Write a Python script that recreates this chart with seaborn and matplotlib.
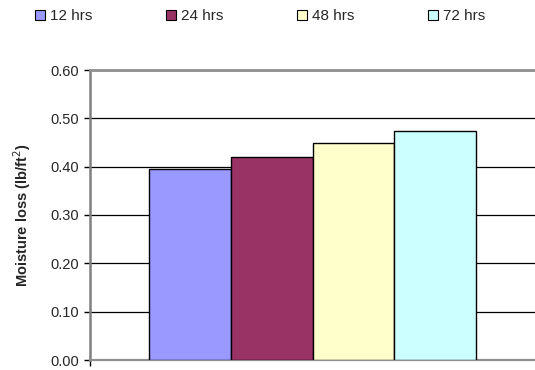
"""Moisture loss by drying time - grouped bar chart"""
import matplotlib
matplotlib.use("Agg")
import pandas as pd
import seaborn as sns
from matplotlib import pyplot as plt

SERIES = ["12 hrs", "24 hrs", "48 hrs", "72 hrs"]
VALUES = [0.395, 0.420, 0.448, 0.473]
COLORS = ["#9999FF", "#993366", "#FFFFCC", "#CCFFFF"]
Y_TICKS = [0.0, 0.1, 0.2, 0.3, 0.4, 0.5, 0.6]

sns.set_theme(style="white")
plt.rcParams["font.family"] = ["Liberation Sans", "DejaVu Sans"]

df = pd.DataFrame({"group": ["A"] * len(SERIES), "series": SERIES, "value": VALUES})

fig = plt.figure(figsize=(5.35, 3.7), dpi=100)
ax = fig.add_axes([90 / 535, 10 / 370, 445 / 535, 290 / 370])

sns.barplot(
    data=df, x="group", y="value", hue="series", hue_order=SERIES,
    palette=COLORS, width=0.733, gap=0, edgecolor="black", linewidth=1,
    saturation=1, ax=ax, legend=False, zorder=3,
)

ax.set_xlim(-0.5, 0.5)
ax.set_ylim(0, 0.6)
ax.set_yticks(Y_TICKS)
ax.set_yticklabels([f"{t:.2f}" for t in Y_TICKS], fontsize=10.5)
ax.set_xticks([-0.5])
ax.set_xticklabels([""])
ax.tick_params(axis="y", direction="out", length=4, width=1, color="black", pad=4, left=True)
ax.tick_params(axis="x", direction="out", length=4, width=1, color="black", bottom=True)
ax.yaxis.grid(True, color="black", linewidth=0.9, zorder=0)
ax.set_axisbelow(True)

ax.spines["right"].set_visible(False)
ax.spines["top"].set_color("#909090")
ax.spines["top"].set_linewidth(2)
ax.spines["left"].set_color("#808080")
ax.spines["left"].set_linewidth(1.8)
ax.spines["bottom"].set_color("#909090")
ax.spines["bottom"].set_linewidth(1.6)

ax.set_xlabel("")
ax.set_ylabel("Moisture loss (lb/ft$^2$)", fontsize=10.5, fontweight="bold", labelpad=12)

handles = [plt.Rectangle((0, 0), 1, 1, facecolor=c, edgecolor="black", linewidth=0.8) for c in COLORS]
fig.legend(
    handles, SERIES, loc="upper left", bbox_to_anchor=(35 / 535, 1 - 9 / 370), ncol=4,
    frameon=False, fontsize=11, handlelength=0.65, handleheight=0.65,
    handletextpad=0.35, columnspacing=4.8, borderpad=0, borderaxespad=0,
)

fig.savefig("out.png", dpi=100)
